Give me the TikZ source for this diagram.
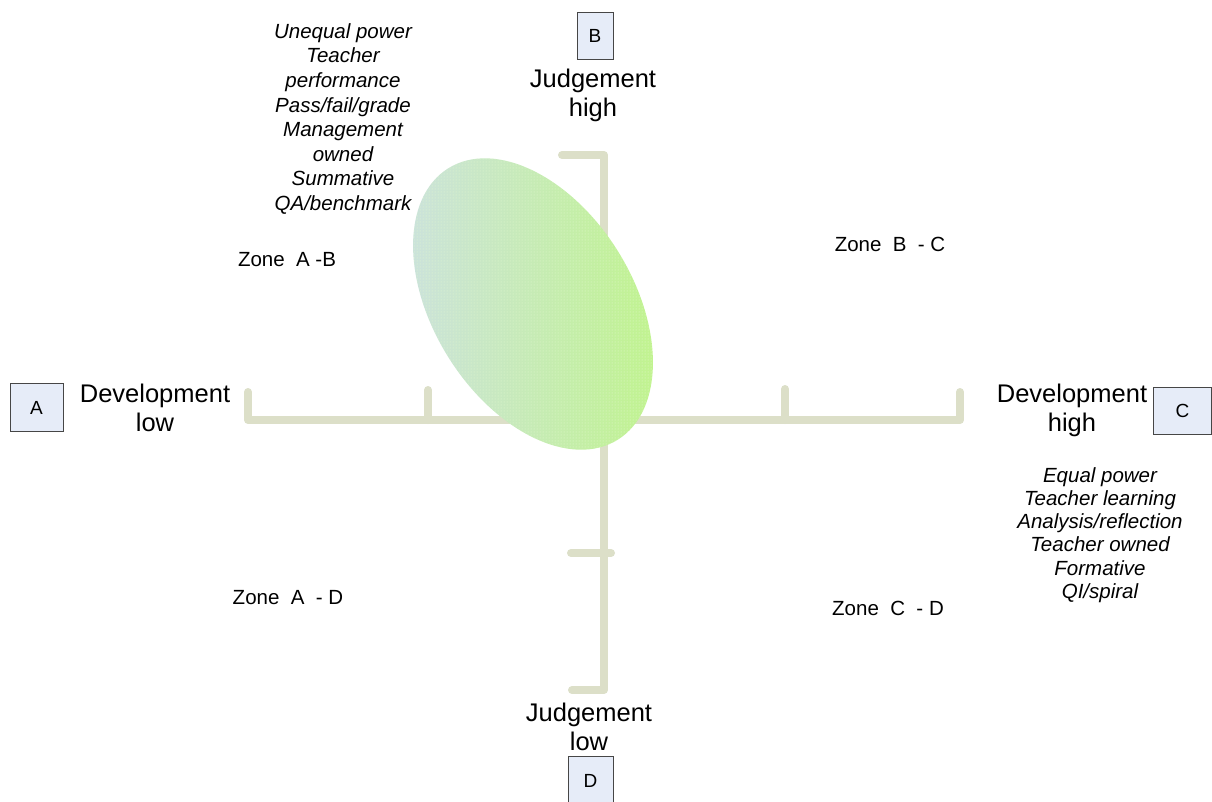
\documentclass[tikz,border=0pt]{standalone}
\usepackage{fontspec}
\setmainfont{Liberation Sans}
\usetikzlibrary{shapes.geometric,patterns}

\definecolor{axiscol}{RGB}{220,223,200}
\definecolor{boxfill}{RGB}{230,236,248}
\definecolor{boxline}{RGB}{70,70,70}
\definecolor{ovalblue}{RGB}{204,226,222}
\definecolor{ovalmid}{RGB}{196,236,170}
\definecolor{ovalgreen}{RGB}{192,244,140}

\tikzset{
  axisline/.style={draw=axiscol, line width=8pt, line cap=round, line join=round},
  letterbox/.style={draw=boxline, fill=boxfill, line width=0.8pt, inner sep=0pt,
    font=\fontsize{19}{22}\selectfont},
  poletext/.style={align=center, font=\fontsize{25.5}{29}\selectfont, inner sep=0pt},
  zonetext/.style={font=\fontsize{20.5}{24}\selectfont, inner sep=0pt},
  listtext/.style={align=center, inner sep=0pt},
}

\begin{document}
\begin{tikzpicture}[x=1pt, y=-1pt]
\useasboundingbox (0,0) rectangle (1212,801);

% axis end points
\coordinate (hl) at (248,420);
\coordinate (hr) at (960,420);
\coordinate (vt) at (604,155);
\coordinate (vb) at (604,690);

% horizontal axis with upturned ends and two ticks
\draw[axisline] (248,392) -- (hl) -- (hr) -- (960,392);
\draw[axisline] (428,420) -- (428,390);
\draw[axisline] (785,420) -- (785,389);

% vertical axis with hooked ends and one tick
\draw[axisline] (562,155) -- (vt) -- (vb) -- (572,690);
\draw[axisline] (571,553) -- (611,553);

% tilted oval
\node[ellipse, minimum width=320pt, minimum height=200pt, inner sep=0pt,
      rotate=-58, left color=ovalblue, middle color=ovalmid, right color=ovalgreen,
      postaction={pattern=dots, pattern color=white!60!ovalgreen}] (oval) at (533,304) {};

% letter boxes
\node[letterbox, minimum width=53pt, minimum height=48pt] (A) at (36.5,407.5) {A};
\node[letterbox, minimum width=36pt, minimum height=47pt] (B) at (595,35.5) {B};
\node[letterbox, minimum width=58pt, minimum height=47pt, anchor=west] (C) at (1153,410.5) {C};
\node[letterbox, minimum width=45pt, minimum height=50pt, anchor=north] (D) at (590.5,756) {D};

% pole labels
\node[poletext] (devlow) at (155,408) {Development\\low};
\node[poletext] (devhigh) at (1072,410) {Development\\high};
\node[poletext] (judhigh) at (593,95) {Judgement\\high};
\node[poletext] (judlow) at (589,727) {Judgement\\low};

% zone labels
\node[zonetext] (zab) at (287,260) {Zone\ \ A -B};
\node[zonetext] (zbc) at (890,244) {Zone\ \ B\ \ -\ C};
\node[zonetext] (zad) at (288,598) {Zone\ \ A\ \ -\ D};
\node[zonetext] (zcd) at (888,608) {Zone\ \ C\ \ -\ D};

% characteristic lists
\node[listtext, font=\fontsize{20.5}{24.6}\selectfont\itshape] (listab) at (343,119)
  {Unequal power\\Teacher\\performance\\Pass/fail/grade\\Management\\owned\\Summative\\QA/benchmark};
\node[listtext, font=\fontsize{20.5}{23.3}\selectfont\itshape] (listcd) at (1100,535)
  {Equal power\\Teacher learning\\Analysis/reflection\\Teacher owned\\Formative\\QI/spiral};
\end{tikzpicture}
\end{document}
